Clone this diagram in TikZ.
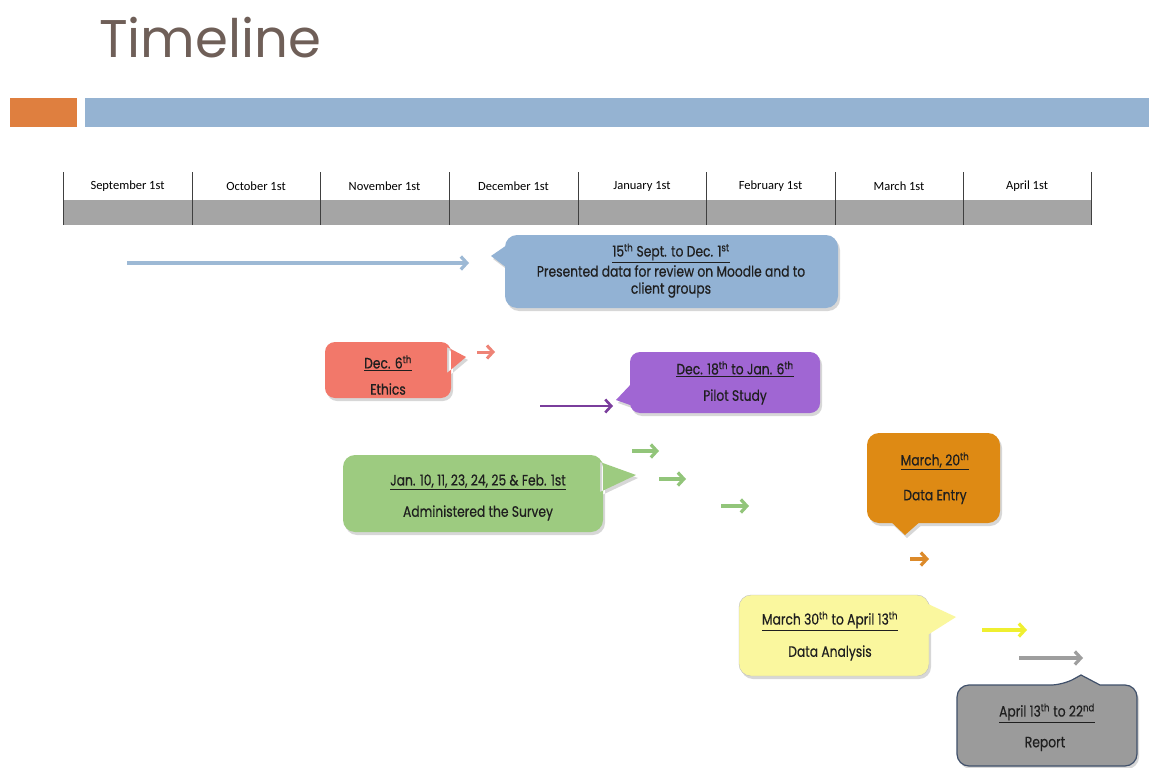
\documentclass[tikz,border=0pt]{standalone}
\usepackage{fontspec}
\setmainfont{Poppins}
\newfontfamily\callfont[FakeStretch=0.82,FakeBold=0.5]{Poppins}
\newfontfamily\tabfont{Carlito}
\usetikzlibrary{arrows.meta,shadows}
\definecolor{cTitle}{HTML}{6F5F58}
\definecolor{cOrangeBar}{HTML}{DF7F3F}
\definecolor{cBlueBar}{HTML}{95B3D2}
\definecolor{cTabGray}{HTML}{A5A5A5}
\definecolor{cTabLine}{HTML}{404040}
\definecolor{cBlue}{HTML}{92B2D4}
\definecolor{cSalmon}{HTML}{F2786A}
\definecolor{cPurple}{HTML}{A066D3}
\definecolor{cGreen}{HTML}{9DCB80}
\definecolor{cOrange}{HTML}{DE8A14}
\definecolor{cYellow}{HTML}{FAF79E}
\definecolor{cGray}{HTML}{9B9B9B}
\definecolor{cNavy}{HTML}{40506A}
\definecolor{aBlue}{HTML}{9DB9D5}
\definecolor{aSalmon}{HTML}{EE8376}
\definecolor{aPurple}{HTML}{7A3D9C}
\definecolor{aGreen}{HTML}{92C57A}
\definecolor{aOrange}{HTML}{DC8A2A}
\definecolor{aYellow}{HTML}{EFEF30}
\definecolor{aGray}{HTML}{9E9E9E}
\begin{document}
\begin{tikzpicture}[x=1pt,y=-1pt,
  tablabel/.style={font=\tabfont\fontsize{12.5}{14}\selectfont, inner sep=0pt, anchor=center},
  calltext/.style={font=\callfont\fontsize{15}{17}\selectfont, inner sep=0pt, anchor=center, text=black!88},
  callbox/.style={drop shadow={shadow xshift=2pt, shadow yshift=-3pt, opacity=0.22, fill=black!70}},
  arr/.style={line width=3.2pt, -{Straight Barb[length=6pt,width=13pt]}},
  tabline/.style={draw=cTabLine, line width=0.9pt}]
\useasboundingbox (0,0) rectangle (1149,768);
\fill[white] (0,0) rectangle (1149,768);

% title and header bars
\node[font=\fontsize{53}{58}\selectfont, text=cTitle, anchor=base west, inner sep=0pt] (title) at (99,58) {Timeline};
\fill[cOrangeBar] (10,98) rectangle (77,127);
\fill[cBlueBar] (85,98) rectangle (1149,127);

% timeline table
\fill[cTabGray] (63,200) rectangle (1091,225);
\foreach \xx in {63,192,320,449,578,706,835,963,1091}
  \draw[tabline] (\xx,172) -- (\xx,225);
\node[tablabel] (sep) at (127.5,186) {September 1st};
\node[tablabel] (oct) at (256,186) {October 1st};
\node[tablabel] (nov) at (384.5,186) {November 1st};
\node[tablabel] (dec) at (513.5,186) {December 1st};
\node[tablabel] (jan) at (642,186) {January 1st};
\node[tablabel] (feb) at (770.5,186) {February 1st};
\node[tablabel] (mar) at (899,186) {March 1st};
\node[tablabel] (apr) at (1027,186) {April 1st};

% blue callout
\path[callbox, fill=cBlue] [rounded corners=12pt] (505,235) rectangle (838,308)
  [sharp corners] (507,245) -- (491,256) -- (507,268) -- cycle;
\node[calltext] (bDate) at (671,253) {\underline{15\textsuperscript{th} Sept. to Dec. 1\textsuperscript{st}}};
\node[calltext] (bDesc1) at (671,271) {Presented data for review on Moodle and to};
\node[calltext] (bDesc2) at (671,290) {client groups};
\coordinate (bA1) at (127,263);
\coordinate (bA2) at (469,263);
\draw[arr, draw=aBlue] (bA1) -- (bA2);

% salmon callout
\path[callbox, fill=cSalmon] [rounded corners=10pt] (325,342) rectangle (451,398)
  [sharp corners] (447,347) -- (466,357) -- (447,373) -- cycle;
\node[calltext] (sDate) at (388,363) {\underline{Dec. 6\textsuperscript{th}}};
\node[calltext] (sDesc) at (388,389) {Ethics};
\coordinate (sA1) at (477,352);
\coordinate (sA2) at (495,352);
\draw[arr, draw=aSalmon, line width=3pt] (sA1) -- (sA2);

% purple callout
\path[callbox, fill=cPurple] [rounded corners=10pt] (630,352) rectangle (820,413)
  [sharp corners] (633,382) -- (616,400) -- (633,406) -- cycle;
\node[calltext] (pDate) at (735,369) {\underline{Dec. 18\textsuperscript{th} to Jan. 6\textsuperscript{th}}};
\node[calltext] (pDesc) at (735,397) {Pilot Study};
\coordinate (pA1) at (540,406);
\coordinate (pA2) at (613,406);
\draw[arr, draw=aPurple, line width=2.6pt] (pA1) -- (pA2);

% green callout
\path[callbox, fill=cGreen] [rounded corners=12pt] (343,455) rectangle (603,532)
  [sharp corners] (600,462) -- (636,475) -- (600,492) -- cycle;
\node[calltext] (gDate) at (478,482) {\underline{Jan. 10, 11, 23, 24, 25 \& Feb. 1st}};
\node[calltext] (gDesc) at (478,513) {Administered the Survey};
\coordinate (gA1) at (632,451);
\coordinate (gA2) at (659,451);
\coordinate (gB1) at (659,479);
\coordinate (gB2) at (686,479);
\coordinate (gC1) at (721,506);
\coordinate (gC2) at (749,506);
\draw[arr, draw=aGreen] (gA1) -- (gA2);
\draw[arr, draw=aGreen] (gB1) -- (gB2);
\draw[arr, draw=aGreen] (gC1) -- (gC2);

% orange callout
\path[callbox, fill=cOrange] [rounded corners=12pt] (867,433) rectangle (1000,523)
  [sharp corners] (889,520) -- (905,535) -- (922,520) -- cycle;
\node[calltext] (oDate) at (935,461) {\underline{March, 20\textsuperscript{th}}};
\node[calltext] (oDesc) at (935,497) {Data Entry};
\coordinate (oA1) at (910,559);
\coordinate (oA2) at (929,559);
\draw[arr, draw=aOrange] (oA1) -- (oA2);

% yellow callout
\path[callbox, fill=cYellow, draw=black!25, line width=0.4pt] [rounded corners=12pt] (739,595) rectangle (929,676);
\path[fill=cYellow] (926,603) -- (956,617) -- (926,636) -- cycle;
\node[calltext] (yDate) at (830,621) {\underline{March 30\textsuperscript{th} to April 13\textsuperscript{th}}};
\node[calltext] (yDesc) at (830,653) {Data Analysis};
\coordinate (yA1) at (982,630);
\coordinate (yA2) at (1027,630);
\draw[arr, draw=aYellow] (yA1) -- (yA2);

% gray arrow and report callout
\coordinate (rA1) at (1019,658);
\coordinate (rA2) at (1083,658);
\draw[arr, draw=aGray] (rA1) -- (rA2);
\draw[callbox, fill=cGray, draw=cNavy, line width=1.2pt] [rounded corners=12pt]
  (1010,766) -- (957,766) -- (957,685) -- (1063,685) [sharp corners] -- (1081,675)
  -- (1100,685) [rounded corners=12pt] -- (1137,685) -- (1137,766) -- cycle;
\node[calltext] (rDate) at (1047,713) {\underline{April 13\textsuperscript{th} to 22\textsuperscript{nd}}};
\node[calltext] (rDesc) at (1045,744) {Report};
\end{tikzpicture}
\end{document}
